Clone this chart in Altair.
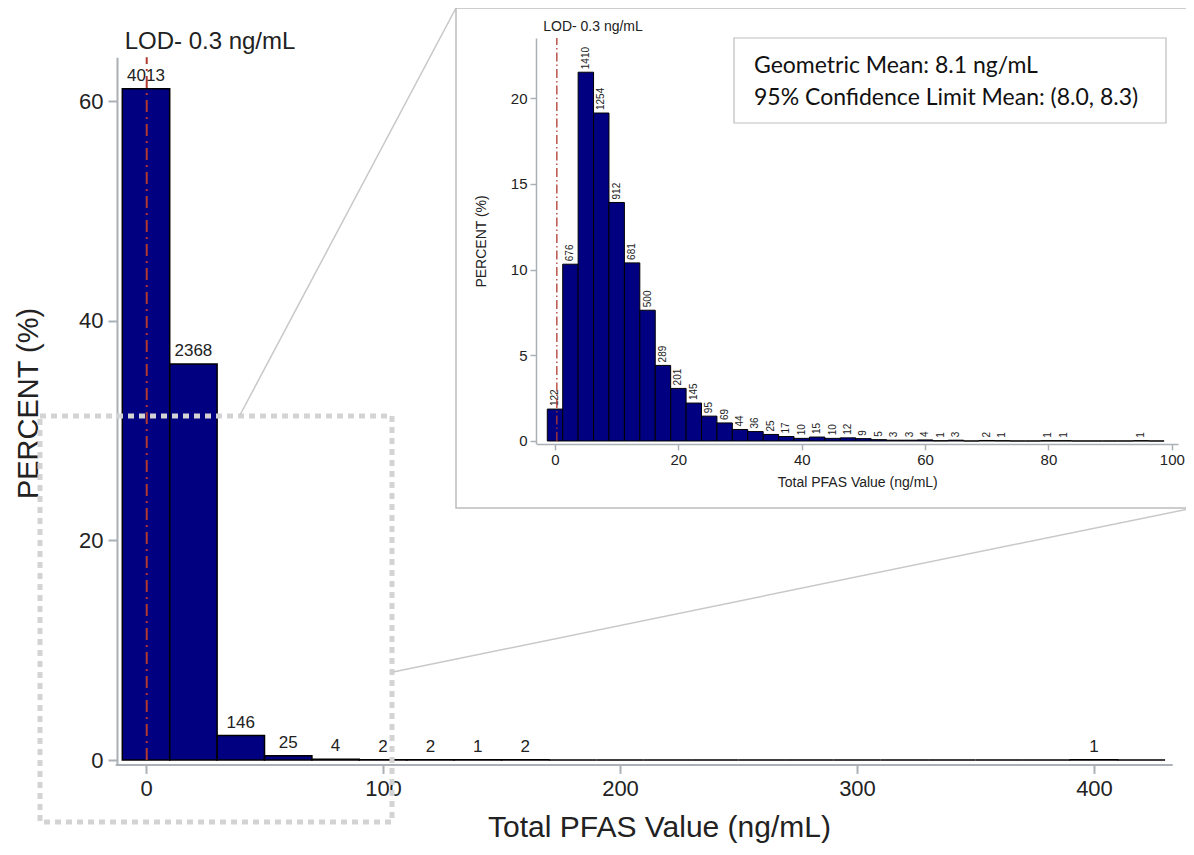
import altair as alt
import pandas as pd

# ---------------- data ----------------
main_centers = [0, 20, 40, 60, 80, 100, 120, 140, 160, 180, 200, 220, 240, 260, 280,
                300, 320, 340, 360, 380, 400, 420]
main_counts = [4013, 2368, 146, 25, 4, 2, 2, 1, 2, 0, 0, 0, 0, 0, 0,
               0, 0, 0, 0, 0, 1, 0]
main_bin_width = 20

inset_centers = [0, 2.5, 5, 7.5, 10, 12.5, 15, 17.5, 20, 22.5, 25, 27.5, 30, 32.5, 35,
                 37.5, 40, 42.5, 45, 47.5, 50, 52.5, 55, 57.5, 60, 62.5, 65, 67.5, 70,
                 72.5, 75, 77.5, 80, 82.5, 85, 87.5, 90, 92.5, 95, 97.5]
inset_counts = [122, 676, 1410, 1254, 912, 681, 500, 289, 201, 145, 95, 69, 44, 36, 25,
                17, 10, 15, 10, 12, 9, 5, 3, 3, 4, 1, 3, 0, 2,
                1, 0, 0, 1, 1, 0, 0, 0, 0, 1, 0]
inset_bin_width = 2.5

main_x_ticks = [0, 100, 200, 300, 400]
main_y_ticks = [0, 20, 40, 60]
inset_x_ticks = [0, 20, 40, 60, 80, 100]
inset_y_ticks = [0, 5, 10, 15, 20]

lod_value = 0.3
lod_label = "LOD- 0.3 ng/mL"
stats_lines = ["Geometric Mean: 8.1 ng/mL", "95% Confidence Limit Mean: (8.0, 8.3)"]


def hist_frame(centers, counts, width):
    df = pd.DataFrame({"center": centers, "count": counts})
    df["pct"] = df["count"] / df["count"].sum() * 100
    df["lo"] = df["center"] - width / 2
    df["hi"] = df["center"] + width / 2
    df["zero"] = 0.0
    return df


main_df = hist_frame(main_centers, main_counts, main_bin_width)
inset_df = hist_frame(inset_centers, inset_counts, inset_bin_width)
main_lbl = main_df[main_df["count"] > 0]
inset_lbl = inset_df[inset_df["count"] > 0]

W, H = 1178, 839
FONT = "Liberation Sans"
AX = "#aab0b6"
NAVY = "#000080"
LODC = "#b03a30"

MAIN_X = alt.Scale(domain=[-13, 433], range=[107.2, 1164.2], nice=False, zero=False)
MAIN_Y = alt.Scale(domain=[-0.4, 64], range=[756.4, 49.3], nice=False, zero=False)
INS_X = alt.Scale(domain=[-3, 101], range=[528.5, 1170], nice=False, zero=False)
INS_Y = alt.Scale(domain=[-0.17, 23.5], range=[435.9, 30], nice=False, zero=False)

one = pd.DataFrame({"a": [0]})
lod_main = pd.DataFrame({"x": [lod_value], "y0": [0.0], "y1": [64.0]})
lod_ins = pd.DataFrame({"x": [lod_value], "y0": [0.0], "y1": [23.5]})

# ---------------- main chart ----------------
main_bars = alt.Chart(main_df).mark_rect(fill=NAVY, stroke="black", strokeWidth=1.5).encode(
    x=alt.X("lo:Q", scale=MAIN_X, axis=alt.Axis(
        values=main_x_ticks, orient="bottom", offset=-82.6, grid=False,
        title="Total PFAS Value (ng/mL)", titleFontSize=30, titleFont=FONT,
        titleFontWeight="normal", titleColor="#222", titlePadding=13, titleX=651,
        labelFontSize=22, labelFont=FONT, labelColor="#222", labelPadding=5,
        domainColor=AX, domainWidth=2, tickColor=AX, tickWidth=2, tickSize=9)),
    x2="hi:Q",
    y=alt.Y("zero:Q", scale=MAIN_Y, axis=alt.Axis(
        values=main_y_ticks, orient="left", offset=-109, grid=False,
        title="PERCENT (%)", titleFontSize=29, titleFont=FONT,
        titleFontWeight="normal", titleColor="#222", titlePadding=35, titleY=395,
        labelFontSize=22, labelFont=FONT, labelColor="#222", labelPadding=5,
        domainColor=AX, domainWidth=2, tickColor=AX, tickWidth=2, tickSize=9)),
    y2="pct:Q",
)

main_text = alt.Chart(main_lbl).mark_text(
    fontSize=17, font=FONT, color="#222", baseline="alphabetic", dy=-8
).encode(
    x=alt.X("center:Q", scale=MAIN_X, axis=None),
    y=alt.Y("pct:Q", scale=MAIN_Y, axis=None),
    text="count:Q",
)

main_lod = alt.Chart(lod_main).mark_rule(color=LODC, strokeWidth=2, strokeDash=[12, 5, 2, 5]).encode(
    x=alt.X("x:Q", scale=MAIN_X, axis=None),
    y=alt.Y("y0:Q", scale=MAIN_Y, axis=None),
    y2="y1:Q",
)

main_lod_text = alt.Chart(one).mark_text(
    text=lod_label, fontSize=24, font=FONT, color="#222", align="center", baseline="middle"
).encode(x=alt.value(202), y=alt.value(34))

# decorations
zoom_box = alt.Chart(one).mark_rect(
    fill=None, stroke="#d3d3d3", strokeWidth=5, strokeDash=[6, 5]
).encode(x=alt.value(32), x2=alt.value(384), y=alt.value(408), y2=alt.value(814))

conn1 = alt.Chart(one).mark_rule(color="#c8c8c8", strokeWidth=1.5).encode(
    x=alt.value(232), y=alt.value(407), x2=alt.value(448), y2=alt.value(0))
conn2 = alt.Chart(one).mark_rule(color="#c8c8c8", strokeWidth=1.5).encode(
    x=alt.value(385), y=alt.value(664), x2=alt.value(1180), y2=alt.value(501))

inset_box = alt.Chart(one).mark_rect(fill="white", stroke="#bdbdbd", strokeWidth=1.5).encode(
    x=alt.value(448), x2=alt.value(1182), y=alt.value(0), y2=alt.value(500))

# ---------------- inset ----------------
inset_bars = alt.Chart(inset_df).mark_rect(fill=NAVY, stroke="black", strokeWidth=1).encode(
    x=alt.X("lo:Q", scale=INS_X, axis=alt.Axis(
        values=inset_x_ticks, orient="bottom", offset=-403.1, grid=False, zindex=1,
        title="Total PFAS Value (ng/mL)", titleFontSize=14, titleFont=FONT,
        titleFontWeight="normal", titleColor="#222", titlePadding=8,
        labelFontSize=15, labelFont=FONT, labelColor="#222", labelPadding=3,
        domainColor=AX, domainWidth=1.5, tickColor=AX, tickWidth=1.5, tickSize=6)),
    x2="hi:Q",
    y=alt.Y("zero:Q", scale=INS_Y, axis=alt.Axis(
        values=inset_y_ticks, orient="left", offset=-528, grid=False, zindex=1,
        title="PERCENT (%)", titleFontSize=14, titleFont=FONT,
        titleFontWeight="normal", titleColor="#222", titlePadding=22,
        labelFontSize=15, labelFont=FONT, labelColor="#222", labelPadding=3,
        domainColor=AX, domainWidth=1.5, tickColor=AX, tickWidth=1.5, tickSize=6)),
    y2="pct:Q",
)

inset_text = alt.Chart(inset_lbl).mark_text(
    fontSize=10, font=FONT, color="#222", angle=270, align="left", baseline="middle", dx=3
).encode(
    x=alt.X("center:Q", scale=INS_X, axis=None),
    y=alt.Y("pct:Q", scale=INS_Y, axis=None),
    text="count:Q",
)

inset_lod = alt.Chart(lod_ins).mark_rule(color=LODC, strokeWidth=1.3, strokeDash=[9, 3, 1.5, 3]).encode(
    x=alt.X("x:Q", scale=INS_X, axis=None),
    y=alt.Y("y0:Q", scale=INS_Y, axis=None),
    y2="y1:Q",
)

inset_lod_text = alt.Chart(one).mark_text(
    text=lod_label, fontSize=14, font=FONT, color="#222", align="center", baseline="middle"
).encode(x=alt.value(585), y=alt.value(19))

stats_box = alt.Chart(one).mark_rect(fill="white", stroke="#bdbdbd", strokeWidth=1.2).encode(
    x=alt.value(726), x2=alt.value(1158), y=alt.value(30), y2=alt.value(115))

stats_df = pd.DataFrame({"line": stats_lines, "row": [0, 1]})
stats_text = alt.Chart(stats_df).mark_text(
    fontSize=23, font="Lato", color="#111", align="left", baseline="middle"
).encode(
    x=alt.value(746),
    y=alt.Y("row:Q", scale=alt.Scale(domain=[0, 1], range=[58, 90], nice=False, zero=False),
            axis=None),
    text="line:N",
)

chart = alt.layer(
    main_bars, main_text, main_lod, main_lod_text, zoom_box, conn1, conn2,
    inset_box, inset_bars, inset_text, inset_lod, inset_lod_text, stats_box, stats_text,
).resolve_scale(x="independent", y="independent").resolve_axis(
    x="independent", y="independent"
).properties(
    width=W, height=H, padding=0, autosize=alt.AutoSizeParams(type="none")
).configure_view(stroke=None)

chart.save("out.html", embed_options={"renderer": "svg", "actions": False})
